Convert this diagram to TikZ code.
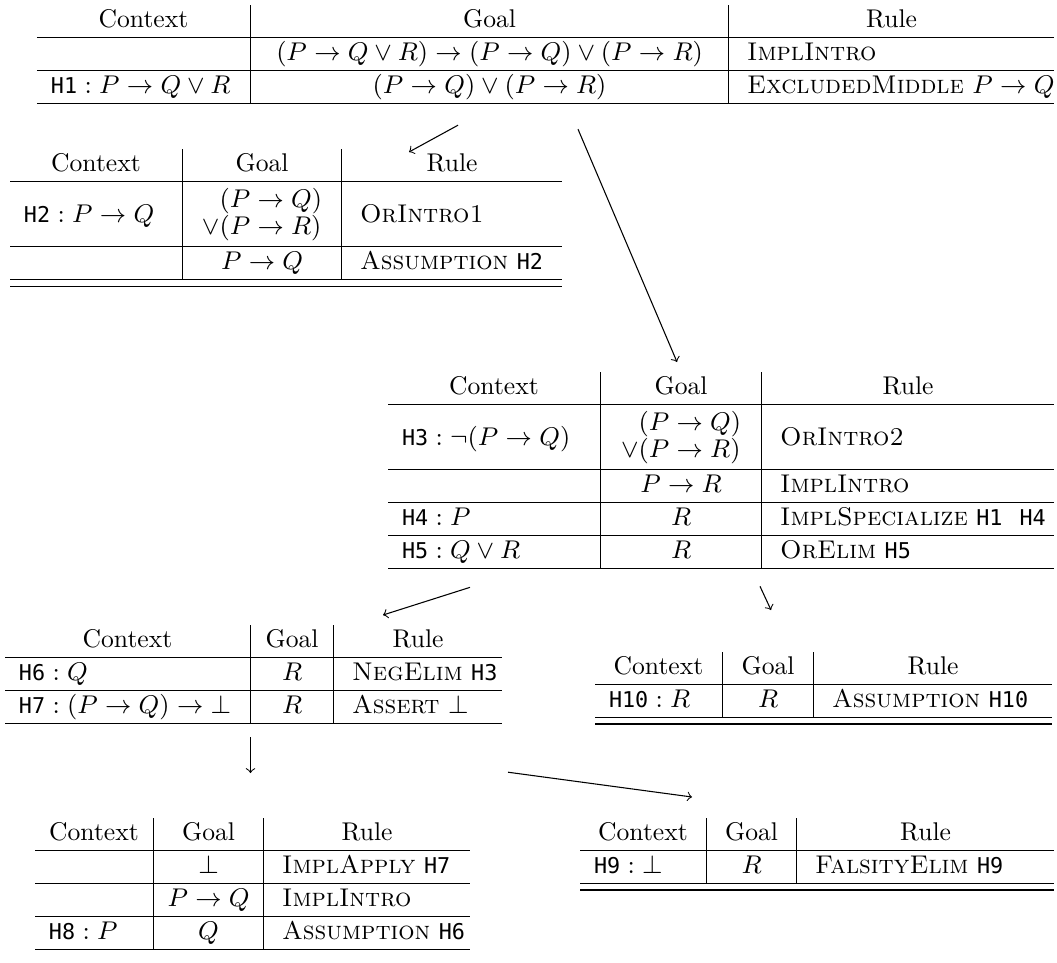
\RequirePackage{fix-cm}
\documentclass[tikz,border=0pt]{standalone}
\usepackage{fontspec}
\usepackage{array}
\usetikzlibrary{calc}
\newfontfamily\hypfont{DejaVu Sans Mono}[Scale=0.85]
\newcommand\hyp[1]{\mbox{\hypfont #1}}
% one drawing unit in the picture
\newdimen\pxu \pxu=0.375pt
% column layout: Context (left), Goal (centred), Rule (left); arguments are full column widths in drawing units
\newcolumntype{T}[3]{@{}>{\hspace{3.5pt}}w{l}{\dimexpr #1\pxu-3.5pt\relax}@{}|@{}w{c}{\dimexpr #2\pxu\relax}@{}|@{}>{\hspace{4.5pt}}w{l}{\dimexpr #3\pxu-4.5pt\relax}@{}}
\newcommand\thead[2]{\multicolumn{1}{@{}w{c}{\dimexpr #1\pxu\relax}@{}|}{Context} & Goal & \multicolumn{1}{@{}w{c}{\dimexpr #2\pxu\relax}@{}}{Rule}\\ \hline}
% a goal split over two lines
\newcommand\twoline[2]{\rule[-9pt]{0pt}{24pt}{\renewcommand\arraystretch{0.82}\begin{tabular}{@{}l@{}}$\phantom{\lor}#1$\\$\lor#2$\end{tabular}}}
\tikzset{
  prooftable/.style={inner sep=0pt, outer sep=0pt, anchor=north west, font=\fontsize{9.6pt}{12pt}\selectfont},
  step edge/.style={->, line width=0.4pt}
}
\begin{document}
\begin{tikzpicture}[x=0.375pt, y=-0.375pt]
\useasboundingbox (0,0) rectangle (1057,962);

% root goal
\node[prooftable] (tA) at (37,5) {%
\begin{tabular}{T{213}{477}{325}}
\thead{213}{325}
 & $(P\to Q\lor R)\to(P\to Q)\lor(P\to R)$ & \textsc{ImplIntro}\\ \hline
$\hyp{H1} : P\to Q\lor R$ & $(P\to Q)\lor(P\to R)$ & \textsc{ExcludedMiddle} $P\to Q$\\ \hline
\end{tabular}};

% left case: P -> Q holds
\node[prooftable] (tB) at (10,149) {%
\begin{tabular}{T{172}{158}{220}}
\thead{172}{220}
$\hyp{H2} : P\to Q$ & \twoline{(P\to Q)}{(P\to R)} & \textsc{OrIntro1}\\ \hline
 & $P\to Q$ & \textsc{Assumption} \hyp{H2}\\ \hline\hline
\end{tabular}};

% right case: not (P -> Q)
\node[prooftable] (tC) at (388,372) {%
\begin{tabular}{T{212}{160}{292}}
\thead{212}{292}
$\hyp{H3} : \neg(P\to Q)$ & \twoline{(P\to Q)}{(P\to R)} & \textsc{OrIntro2}\\ \hline
 & $P\to R$ & \textsc{ImplIntro}\\ \hline
$\hyp{H4} : P$ & $R$ & \textsc{ImplSpecialize} \hyp{H1}\ \ \hyp{H4}\\ \hline
$\hyp{H5} : Q\lor R$ & $R$ & \textsc{OrElim} \hyp{H5}\\ \hline
\end{tabular}};

% case Q
\node[prooftable] (tD) at (5,625) {%
\begin{tabular}{T{245}{82}{168}}
\thead{245}{168}
$\hyp{H6} : Q$ & $R$ & \textsc{NegElim} \hyp{H3}\\ \hline
$\hyp{H7} : (P\to Q)\to\bot$ & $R$ & \textsc{Assert} $\bot$\\ \hline
\end{tabular}};

% case R
\node[prooftable] (tE) at (595,652) {%
\begin{tabular}{T{127}{90}{238}}
\thead{127}{238}
$\hyp{H10} : R$ & $R$ & \textsc{Assumption} \hyp{H10}\\ \hline\hline
\end{tabular}};

% proving the asserted falsity
\node[prooftable] (tF) at (35,818) {%
\begin{tabular}{T{118}{109}{206}}
\thead{118}{206}
 & $\bot$ & \textsc{ImplApply} \hyp{H7}\\ \hline
 & $P\to Q$ & \textsc{ImplIntro}\\ \hline
$\hyp{H8} : P$ & $Q$ & \textsc{Assumption} \hyp{H6}\\ \hline
\end{tabular}};

% using the asserted falsity
\node[prooftable] (tG) at (580,818) {%
\begin{tabular}{T{126}{89}{257}}
\thead{126}{257}
$\hyp{H9} : \bot$ & $R$ & \textsc{FalsityElim} \hyp{H9}\\ \hline\hline
\end{tabular}};

% proof-tree edges
\draw[step edge] ($(tA.south west)+(421,21)$) -- ($(tB.north west)+(399,3)$);
\draw[step edge] ($(tA.south west)+(541,25)$) -- ($(tC.north west)+(289,-10)$);
\draw[step edge] ($(tC.south west)+(82,18)$) -- ($(tD.north west)+(378,-10)$);
\draw[step edge] ($(tC.south west)+(372,17)$) -- ($(tE.north west)+(176,-42)$);
\draw[step edge] ($(tD.south west)+(245.5,13)$) -- ($(tF.north west)+(215.5,-45)$);
\draw[step edge] ($(tD.south west)+(503,48)$) -- ($(tG.north west)+(112,-21)$);
\end{tikzpicture}
\end{document}
